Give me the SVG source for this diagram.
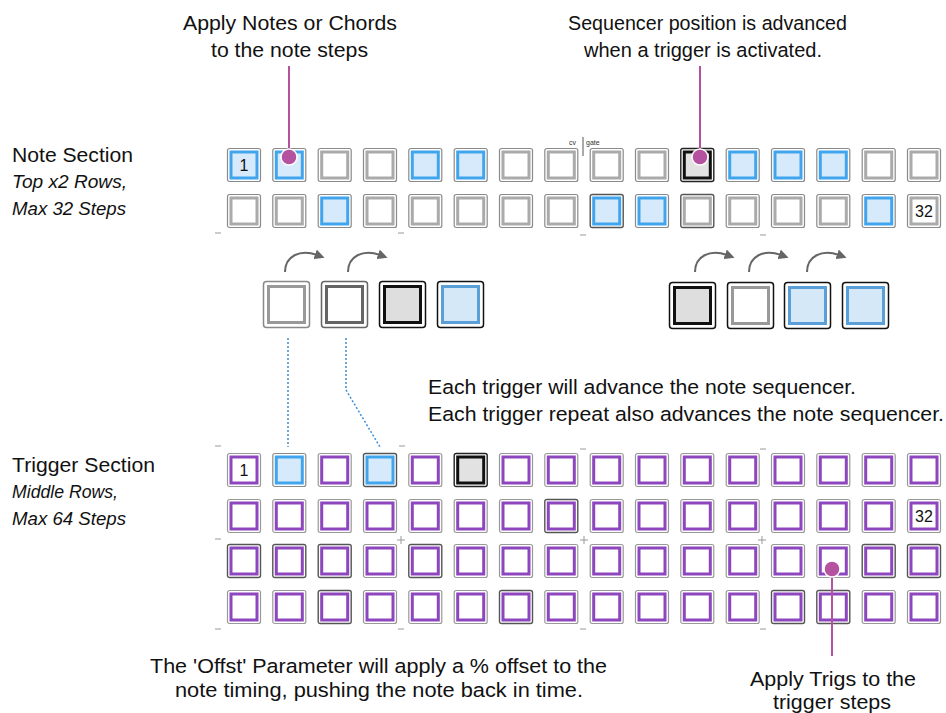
<svg xmlns="http://www.w3.org/2000/svg" xmlns:xlink="http://www.w3.org/1999/xlink" width="946" height="713" viewBox="0 0 946 713">
<style>
.t{font-family:"Liberation Sans",Arial,sans-serif;font-size:20.5px;fill:#111}
.ti{font-family:"Liberation Sans",Arial,sans-serif;font-size:18px;font-style:italic;fill:#111}
.c{text-anchor:middle}
.num{font-family:"Liberation Sans",Arial,sans-serif;font-size:16px;fill:#111;text-anchor:middle}
.small{font-family:"Liberation Sans",Arial,sans-serif;font-size:7px;fill:#333}
.tick{stroke:#999;stroke-width:1;fill:none}
.pin{stroke:#b5529f;stroke-width:2;fill:none}
.dot{fill:#b5529f;stroke:#fff;stroke-width:1.5}
.dots{stroke:#3f8fd8;stroke-width:1.5;stroke-dasharray:2 2;fill:none}
.arc{stroke:#666;stroke-width:2;fill:none}
</style>
<defs>
<marker id="ah" viewBox="0 0 10 10" refX="2" refY="5" markerWidth="5" markerHeight="5" orient="auto" markerUnits="strokeWidth">
<path d="M0 0 L10 5 L0 10 z" fill="#666"/>
</marker>
<g id="ng"><rect x="0.5" y="0.5" width="33" height="33" rx="2" fill="#fff" stroke="#8a8a8a" stroke-width="1.2"/><rect x="4" y="4" width="26" height="26" fill="#fff" stroke="#aaa" stroke-width="3"/></g>
<g id="ngd"><rect x="0.5" y="0.5" width="33" height="33" rx="2" fill="#fff" stroke="#555" stroke-width="1.4"/><rect x="4" y="4" width="26" height="26" fill="#fff" stroke="#aaa" stroke-width="3"/></g>
<g id="nb"><rect x="0.5" y="0.5" width="33" height="33" rx="2" fill="#fff" stroke="#8a8a8a" stroke-width="1.2"/><rect x="4" y="4" width="26" height="26" fill="#d6eafb" stroke="#41a5ee" stroke-width="3"/></g>
<g id="nbd"><rect x="0.5" y="0.5" width="33" height="33" rx="2" fill="#fff" stroke="#555" stroke-width="1.4"/><rect x="4" y="4" width="26" height="26" fill="#d6eafb" stroke="#41a5ee" stroke-width="3"/></g>
<g id="na"><rect x="0.5" y="0.5" width="33" height="33" rx="2" fill="#fff" stroke="#222" stroke-width="1.4"/><rect x="4" y="4" width="26" height="26" fill="#e2e2e2" stroke="#111" stroke-width="3"/></g>
<g id="tp"><rect x="0.5" y="0.5" width="33" height="33" rx="2" fill="#fff" stroke="#999" stroke-width="1.2"/><rect x="4" y="4" width="26" height="26" fill="#fff" stroke="#8e46be" stroke-width="3"/></g>
<g id="tpd"><rect x="0.5" y="0.5" width="33" height="33" rx="2" fill="#fff" stroke="#555" stroke-width="1.4"/><rect x="4" y="4" width="26" height="26" fill="#fff" stroke="#8e46be" stroke-width="3"/></g>
</defs>

<g id="labels">
<text class="t" x="183" y="30" textLength="214" lengthAdjust="spacingAndGlyphs">Apply Notes or Chords</text>
<text class="t" x="211" y="57" textLength="157" lengthAdjust="spacingAndGlyphs">to the note steps</text>
<text class="t" x="568" y="30" textLength="279" lengthAdjust="spacingAndGlyphs">Sequencer position is advanced</text>
<text class="t" x="584" y="57" textLength="238" lengthAdjust="spacingAndGlyphs">when a trigger is activated.</text>
<text class="t" x="12" y="162" textLength="121" lengthAdjust="spacingAndGlyphs">Note Section</text>
<text class="ti" x="12" y="188" textLength="115" lengthAdjust="spacingAndGlyphs">Top x2 Rows,</text>
<text class="ti" x="12" y="215" textLength="114" lengthAdjust="spacingAndGlyphs">Max 32 Steps</text>
<text class="t" x="12" y="472" textLength="143" lengthAdjust="spacingAndGlyphs">Trigger Section</text>
<text class="ti" x="12" y="498" textLength="106" lengthAdjust="spacingAndGlyphs">Middle Rows,</text>
<text class="ti" x="12" y="525" textLength="114" lengthAdjust="spacingAndGlyphs">Max 64 Steps</text>
<text class="t" x="428" y="394" textLength="428" lengthAdjust="spacingAndGlyphs">Each trigger will advance the note sequencer.</text>
<text class="t" x="428" y="421" textLength="516" lengthAdjust="spacingAndGlyphs">Each trigger repeat also advances the note sequencer.</text>
<text class="t" x="150" y="673" textLength="457" lengthAdjust="spacingAndGlyphs">The 'Offst' Parameter will apply a % offset to the</text>
<text class="t" x="175" y="697" textLength="408" lengthAdjust="spacingAndGlyphs">note timing, pushing the note back in time.</text>
<text class="t" x="750" y="686" textLength="166" lengthAdjust="spacingAndGlyphs">Apply Trigs to the</text>
<text class="t" x="773" y="709" textLength="118" lengthAdjust="spacingAndGlyphs">trigger steps</text>
<text class="small" x="569" y="145">cv</text>
<text class="small" x="586" y="145">gate</text>
<line x1="583" y1="137" x2="583" y2="156" stroke="#555" stroke-width="1"/>
</g>

<g id="ticks" class="tick">
<path d="M215 233h6M398 233h6M580 235h6M760 235h6"/>
<path d="M215 446h6M399 446h6M580 449h6M760 449h6"/>
<path d="M215 539h6M397 540h8M401 536v8M580 540h8M584 536v8M758 540h8M762 536v8"/>
<path d="M215 629h6M398 629h6M580 629h6M760 629h6"/>
</g>

<g id="note-row-1">
<use id="n1-1" href="#nb" x="227" y="148"/>
<use id="n1-2" href="#nb" x="272.3" y="148"/>
<use id="n1-3" href="#ng" x="317.7" y="148"/>
<use id="n1-4" href="#ng" x="363" y="148"/>
<use id="n1-5" href="#nb" x="408.3" y="148"/>
<use id="n1-6" href="#nb" x="453.7" y="148"/>
<use id="n1-7" href="#ng" x="499" y="148"/>
<use id="n1-8" href="#ng" x="544.3" y="148"/>
<use id="n1-9" href="#ng" x="589.7" y="148"/>
<use id="n1-10" href="#ng" x="635" y="148"/>
<use id="n1-11" href="#na" x="680.3" y="148"/>
<use id="n1-12" href="#nb" x="725.7" y="148"/>
<use id="n1-13" href="#nb" x="771" y="148"/>
<use id="n1-14" href="#nb" x="816.3" y="148"/>
<use id="n1-15" href="#ng" x="861.7" y="148"/>
<use id="n1-16" href="#ng" x="907" y="148"/>
<text class="num" x="244" y="171">1</text>
</g>
<g id="note-row-2">
<use id="n2-1" href="#ng" x="227" y="194"/>
<use id="n2-2" href="#ng" x="272.3" y="194"/>
<use id="n2-3" href="#nb" x="317.7" y="194"/>
<use id="n2-4" href="#ng" x="363" y="194"/>
<use id="n2-5" href="#ng" x="408.3" y="194"/>
<use id="n2-6" href="#ng" x="453.7" y="194"/>
<use id="n2-7" href="#ng" x="499" y="194"/>
<use id="n2-8" href="#ng" x="544.3" y="194"/>
<use id="n2-9" href="#nbd" x="589.7" y="194"/>
<use id="n2-10" href="#nb" x="635" y="194"/>
<use id="n2-11" href="#ngd" x="680.3" y="194"/>
<use id="n2-12" href="#ng" x="725.7" y="194"/>
<use id="n2-13" href="#ng" x="771" y="194"/>
<use id="n2-14" href="#ng" x="816.3" y="194"/>
<use id="n2-15" href="#nb" x="861.7" y="194"/>
<use id="n2-16" href="#ng" x="907" y="194"/>
<text class="num" x="924" y="217">32</text>
</g>

<g id="trig-row-1">
<use id="t1-1" href="#tp" x="227" y="453"/>
<use id="t1-2" href="#nb" x="272.3" y="453"/>
<use id="t1-3" href="#tp" x="317.7" y="453"/>
<use id="t1-4" href="#nbd" x="363" y="453"/>
<use id="t1-5" href="#tp" x="408.3" y="453"/>
<use id="t1-6" href="#na" x="453.7" y="453"/>
<use id="t1-7" href="#tp" x="499" y="453"/>
<use id="t1-8" href="#tp" x="544.3" y="453"/>
<use id="t1-9" href="#tp" x="589.7" y="453"/>
<use id="t1-10" href="#tp" x="635" y="453"/>
<use id="t1-11" href="#tp" x="680.3" y="453"/>
<use id="t1-12" href="#tp" x="725.7" y="453"/>
<use id="t1-13" href="#tp" x="771" y="453"/>
<use id="t1-14" href="#tp" x="816.3" y="453"/>
<use id="t1-15" href="#tp" x="861.7" y="453"/>
<use id="t1-16" href="#tp" x="907" y="453"/>
<text class="num" x="244" y="476">1</text>
</g>
<g id="trig-row-2">
<use id="t2-1" href="#tp" x="227" y="499"/>
<use id="t2-2" href="#tp" x="272.3" y="499"/>
<use id="t2-3" href="#tp" x="317.7" y="499"/>
<use id="t2-4" href="#tp" x="363" y="499"/>
<use id="t2-5" href="#tp" x="408.3" y="499"/>
<use id="t2-6" href="#tp" x="453.7" y="499"/>
<use id="t2-7" href="#tp" x="499" y="499"/>
<use id="t2-8" href="#tpd" x="544.3" y="499"/>
<use id="t2-9" href="#tp" x="589.7" y="499"/>
<use id="t2-10" href="#tp" x="635" y="499"/>
<use id="t2-11" href="#tp" x="680.3" y="499"/>
<use id="t2-12" href="#tp" x="725.7" y="499"/>
<use id="t2-13" href="#tp" x="771" y="499"/>
<use id="t2-14" href="#tp" x="816.3" y="499"/>
<use id="t2-15" href="#tp" x="861.7" y="499"/>
<use id="t2-16" href="#tp" x="907" y="499"/>
<text class="num" x="924" y="522">32</text>
</g>
<g id="trig-row-3">
<use id="t3-1" href="#tpd" x="227" y="544"/>
<use id="t3-2" href="#tpd" x="272.3" y="544"/>
<use id="t3-3" href="#tpd" x="317.7" y="544"/>
<use id="t3-4" href="#tp" x="363" y="544"/>
<use id="t3-5" href="#tpd" x="408.3" y="544"/>
<use id="t3-6" href="#tp" x="453.7" y="544"/>
<use id="t3-7" href="#tp" x="499" y="544"/>
<use id="t3-8" href="#tp" x="544.3" y="544"/>
<use id="t3-9" href="#tp" x="589.7" y="544"/>
<use id="t3-10" href="#tp" x="635" y="544"/>
<use id="t3-11" href="#tp" x="680.3" y="544"/>
<use id="t3-12" href="#tp" x="725.7" y="544"/>
<use id="t3-13" href="#tp" x="771" y="544"/>
<use id="t3-14" href="#tp" x="816.3" y="544"/>
<use id="t3-15" href="#tpd" x="861.7" y="544"/>
<use id="t3-16" href="#tpd" x="907" y="544"/>
</g>
<g id="trig-row-4">
<use id="t4-1" href="#tp" x="227" y="590"/>
<use id="t4-2" href="#tp" x="272.3" y="590"/>
<use id="t4-3" href="#tpd" x="317.7" y="590"/>
<use id="t4-4" href="#tp" x="363" y="590"/>
<use id="t4-5" href="#tp" x="408.3" y="590"/>
<use id="t4-6" href="#tp" x="453.7" y="590"/>
<use id="t4-7" href="#tpd" x="499" y="590"/>
<use id="t4-8" href="#tp" x="544.3" y="590"/>
<use id="t4-9" href="#tp" x="589.7" y="590"/>
<use id="t4-10" href="#tp" x="635" y="590"/>
<use id="t4-11" href="#tp" x="680.3" y="590"/>
<use id="t4-12" href="#tp" x="725.7" y="590"/>
<use id="t4-13" href="#tpd" x="771" y="590"/>
<use id="t4-14" href="#tpd" x="816.3" y="590"/>
<use id="t4-15" href="#tp" x="861.7" y="590"/>
<use id="t4-16" href="#tp" x="907" y="590"/>
</g>

<g id="example-left">
<g id="el-1"><rect x="263.5" y="281.5" width="46" height="46" rx="3" fill="#fff" stroke="#888" stroke-width="1.5"/><rect x="268.5" y="286.5" width="36" height="36" fill="#fff" stroke="#999" stroke-width="3"/></g>
<g id="el-2"><rect x="321.5" y="281.5" width="46" height="46" rx="3" fill="#fff" stroke="#666" stroke-width="1.5"/><rect x="326.5" y="286.5" width="36" height="36" fill="#fff" stroke="#666" stroke-width="3"/></g>
<g id="el-3"><rect x="379.5" y="281.5" width="46" height="46" rx="3" fill="#fff" stroke="#111" stroke-width="1.5"/><rect x="384.5" y="286.5" width="36" height="36" fill="#dedede" stroke="#111" stroke-width="3"/></g>
<g id="el-4"><rect x="437.5" y="281.5" width="46" height="46" rx="3" fill="#fff" stroke="#111" stroke-width="1.5"/><rect x="442.5" y="286.5" width="36" height="36" fill="#d5e8f8" stroke="#5a9fd8" stroke-width="3"/></g>
</g>
<g id="example-right">
<g id="er-1"><rect x="669.5" y="282.5" width="46" height="46" rx="3" fill="#fff" stroke="#111" stroke-width="1.5"/><rect x="674.5" y="287.5" width="36" height="36" fill="#dedede" stroke="#111" stroke-width="3"/></g>
<g id="er-2"><rect x="727.5" y="282.5" width="46" height="46" rx="3" fill="#fff" stroke="#111" stroke-width="1.5"/><rect x="732.5" y="287.5" width="36" height="36" fill="#fff" stroke="#999" stroke-width="3"/></g>
<g id="er-3"><rect x="784.5" y="282.5" width="46" height="46" rx="3" fill="#fff" stroke="#111" stroke-width="1.5"/><rect x="789.5" y="287.5" width="36" height="36" fill="#d5e8f8" stroke="#5a9fd8" stroke-width="3"/></g>
<g id="er-4"><rect x="842.5" y="282.5" width="46" height="46" rx="3" fill="#fff" stroke="#111" stroke-width="1.5"/><rect x="847.5" y="287.5" width="36" height="36" fill="#d5e8f8" stroke="#5a9fd8" stroke-width="3"/></g>
</g>

<g id="connectors">
<path class="arc" d="M285 272 C285 256 300 249 317 255" marker-end="url(#ah)"/>
<path class="arc" d="M348 272 C348 256 363 249 380 255" marker-end="url(#ah)"/>
<path class="arc" d="M695 272 C695 256 710 249 727 255" marker-end="url(#ah)"/>
<path class="arc" d="M749 272 C749 256 764 249 781 255" marker-end="url(#ah)"/>
<path class="arc" d="M807 272 C807 256 822 249 839 255" marker-end="url(#ah)"/>
<path class="dots" d="M288 338 V447"/>
<path class="dots" d="M346 338 V390 L380 447"/>
<line class="pin" x1="289" y1="66" x2="289" y2="157"/>
<circle class="dot" cx="289" cy="157" r="8"/>
<line class="pin" x1="700" y1="66" x2="700" y2="157"/>
<circle class="dot" cx="700" cy="157" r="8"/>
<line class="pin" x1="832" y1="569" x2="832" y2="656"/>
<circle class="dot" cx="832" cy="569" r="8"/>
</g>
</svg>
